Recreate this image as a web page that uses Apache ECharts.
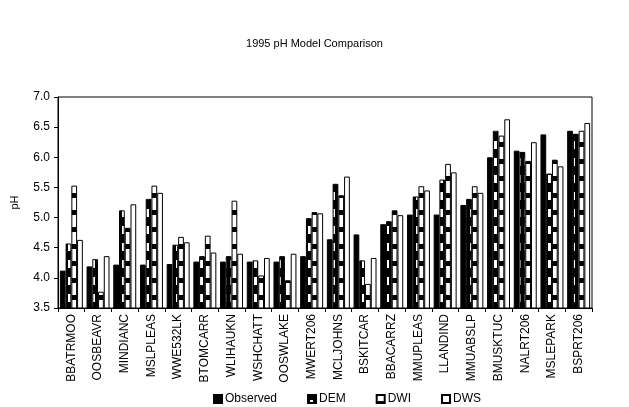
<!DOCTYPE html>
<html>
<head>
<meta charset="utf-8">
<script src="https://cdn.jsdelivr.net/npm/echarts@6/dist/echarts.min.js"></script>
<style>
  html, body { margin: 0; padding: 0; background: #fff; }
  #chart { width: 629px; height: 407px; }
</style>
</head>
<body>
<div id="chart"></div>
<script>
// Sites along the category axis
const sites = ['BBATRMOO', 'OOSBEAVR', 'MINDIANC', 'MSLPLEAS', 'WWE532LK', 'BTOMCARR',
  'WLIHAUKN', 'WSHCHATT', 'OOSWLAKE', 'MWERT206', 'MCLJOHNS', 'BSKITCAR', 'BBACARRZ',
  'MMUPLEAS', 'LLANDIND', 'MMUABSLP', 'BMUSKTUC', 'NALRT206', 'MSLEPARK', 'BSPRT206'];

// pH per site: measured and three model results
const observed = [4.12, 4.19, 4.22, 4.22, 4.23, 4.27, 4.27, 4.27, 4.27, 4.36,
  4.64, 4.72, 4.89, 5.05, 5.05, 5.21, 6.00, 6.11, 6.38, 6.44];
const dem = [4.57, 4.31, 5.12, 5.31, 4.55, 4.36, 4.36, 4.29, 4.36, 4.99,
  5.56, 4.29, 4.94, 5.35, 5.63, 5.31, 6.44, 6.09, 5.73, 6.39];
const dwi = [5.53, 3.77, 4.83, 5.53, 4.68, 4.70, 5.28, 4.04, 3.96, 5.09,
  5.37, 3.90, 5.12, 5.52, 5.89, 5.52, 6.36, 5.94, 5.96, 6.44];
const dws = [4.63, 4.36, 5.22, 5.41, 4.59, 4.42, 4.40, 4.33, 4.40, 5.07,
  5.68, 4.33, 5.04, 5.45, 5.75, 5.41, 6.63, 6.25, 5.85, 6.57];

const yTicks = { min: 3.5, max: 7.0, step: 0.5 };

// Hatch tiles for the model series
function makeTile(w, h, draw) {
  const c = document.createElement('canvas');
  c.width = w; c.height = h;
  const g = c.getContext('2d');
  draw(g, w, h);
  return { image: c, repeat: 'repeat' };
}
const demFill = makeTile(6, 17, (g, w, h) => {
  g.fillStyle = '#000'; g.fillRect(0, 0, w, h);
  g.fillStyle = '#fff'; g.fillRect(2, 5, 3, 8);
});
const dwiFill = makeTile(6, 17, (g, w, h) => {
  g.fillStyle = '#fff'; g.fillRect(0, 0, w, h);
  g.fillStyle = '#000'; g.fillRect(0, 6, w, 5);
});

const font = 'Liberation Sans, Arial, sans-serif';

function bar(name, data, fill) {
  return {
    name, type: 'bar', data,
    barGap: '0%', barCategoryGap: '14%',
    itemStyle: { color: fill, borderColor: '#000', borderWidth: 1 }
  };
}

const chart = echarts.init(document.getElementById('chart'), null, { renderer: 'canvas' });
chart.setOption({
  animation: false,
  backgroundColor: '#fff',
  title: {
    text: '1995 pH Model Comparison', left: 'center', top: 33,
    textStyle: { fontFamily: font, fontSize: 11, fontWeight: 'normal', color: '#000' }
  },
  legend: {
    bottom: -3, left: 208, icon: 'rect', itemWidth: 8, itemHeight: 8, itemGap: 30,
    textStyle: { fontFamily: font, fontSize: 12, color: '#000', padding: [0, 0, 0, -2] },
    data: ['Observed', 'DEM', 'DWI', 'DWS']
  },
  grid: {
    left: 58, right: 37, top: 97, bottom: 99,
    show: true, borderColor: '#000', borderWidth: 1
  },
  xAxis: {
    type: 'category', data: sites,
    axisLine: { lineStyle: { color: '#000' } },
    axisTick: { show: true, inside: false, length: 4, alignWithLabel: false, lineStyle: { color: '#000' } },
    axisLabel: { rotate: 90, interval: 0, fontFamily: font, fontSize: 12, color: '#000', margin: 6 }
  },
  yAxis: {
    type: 'value', min: yTicks.min, max: yTicks.max, interval: yTicks.step,
    name: 'pH', nameLocation: 'middle', nameGap: 38, nameRotate: 90,
    nameTextStyle: { fontFamily: font, fontSize: 11, color: '#000' },
    splitLine: { show: false },
    axisLine: { show: true, lineStyle: { color: '#000' } },
    axisTick: { show: true, length: 4, lineStyle: { color: '#000' } },
    axisLabel: { fontFamily: font, fontSize: 12, color: '#000', formatter: v => v.toFixed(1) }
  },
  series: [
    bar('Observed', observed, '#000'),
    bar('DEM', dem, demFill),
    bar('DWI', dwi, dwiFill),
    bar('DWS', dws, '#fff')
  ]
});
</script>
</body>
</html>
